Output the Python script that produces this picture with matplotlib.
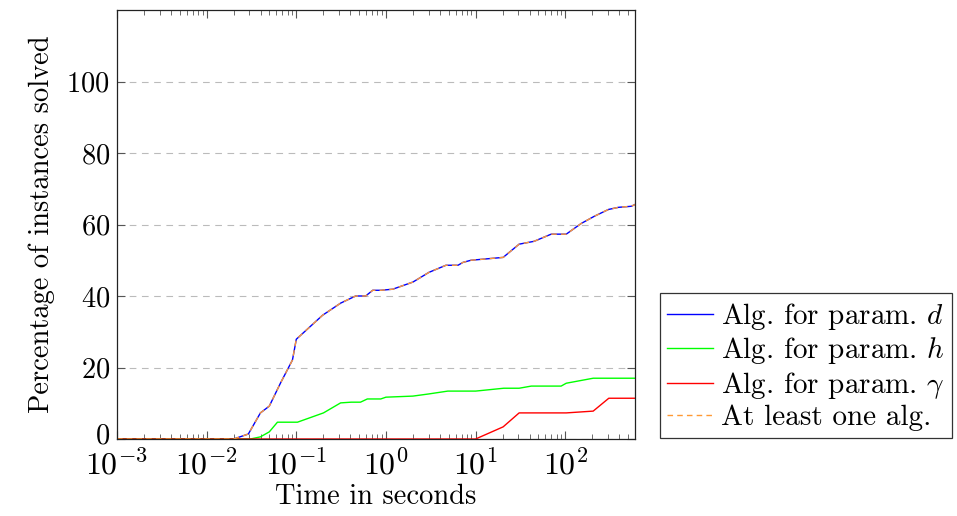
import matplotlib.pyplot as plt
import matplotlib.transforms as mtransforms
import numpy as np
from matplotlib.ticker import LogLocator, NullFormatter

plt.rcParams["font.family"] = 'cmr10'
plt.rcParams['mathtext.fontset'] = 'cm'
plt.rcParams['axes.formatter.use_mathtext'] = True
plt.rcParams.update({'font.size': 20.5})

# time (s) / percentage of instances solved
t_d = [0.001, 0.02, 0.0292, 0.0398, 0.050, 0.0665, 0.0906, 0.1, 0.196, 0.312, 0.459, 0.594,
       0.712, 0.875, 1.19, 2.0, 3.01, 4.67, 6.36, 7.23, 8.89, 20.3, 30.6, 45, 69.7, 102.6,
       151, 211, 303, 392, 547, 600]
p_d = [0, 0, 1.4, 7.3, 9.2, 15.6, 22.1, 27.9, 34.6, 38, 40, 40,
       41.6, 41.6, 41.9, 43.9, 46.6, 48.6, 48.6, 49.4, 50, 50.8, 54.5, 55.3, 57.3, 57.3,
       60.3, 62.3, 64.2, 64.8, 65.1, 65.6]

t_h = [0.001, 0.0308, 0.0398, 0.050, 0.0616, 0.103, 0.201, 0.312, 0.41, 0.52, 0.62, 0.875,
       1.0, 2.0, 3.0, 4.9, 10, 20.6, 30.6, 41.8, 90, 102.6, 205, 600]
p_h = [0, 0, 0.6, 2.0, 4.7, 4.7, 7.3, 10.1, 10.3, 10.3, 11.2, 11.2,
       11.7, 12.0, 12.6, 13.4, 13.4, 14.2, 14.2, 14.8, 14.8, 15.6, 17.0, 17.0]

t_g = [0.001, 10, 20.3, 30.6, 102.6, 205, 306, 600]
p_g = [0, 0, 3.4, 7.3, 7.3, 7.8, 11.4, 11.4]

# at least one algorithm solves it: same as d
t_any = t_d
p_any = p_d

fig = plt.figure(figsize=(9.57, 5.16), dpi=100)
ax = fig.add_axes([117/957, 77/516, 518/957, 429/516])

ax.plot(t_d, p_d, color='blue', lw=1.0, label=r'Alg. for param. $d$')
ax.plot(t_h, p_h, color='#00ff00', lw=1.0, label=r'Alg. for param. $h$')
ax.plot(t_g, p_g, color='red', lw=1.0, label=r'Alg. for param. $\gamma$')
ax.plot(t_any, p_any, color='#ff9933', lw=1.0, ls=(0, (4, 3)), label='At least one alg.')

ax.set_xscale('log')
ax.set_xlim(0.001, 600)
ax.set_ylim(0, 120)
ax.set_yticks([0, 20, 40, 60, 80, 100])
ax.xaxis.set_major_locator(LogLocator(base=10, numticks=12))
ax.xaxis.set_minor_locator(LogLocator(base=10, subs=np.arange(2, 10), numticks=12))
ax.xaxis.set_minor_formatter(NullFormatter())
ax.tick_params(which='both', direction='in', top=True, right=True, color='#555555', pad=5)
ax.tick_params(axis='x', which='major', labelsize=23, pad=7)
ax.tick_params(which='major', length=6, width=0.8)
ax.tick_params(which='minor', length=3.5, width=0.6)
ax.yaxis.grid(True, ls=(0, (6, 5)), color='#bbbbbb', lw=0.8)
ax.set_axisbelow(True)
for s in ax.spines.values():
    s.set_color('#222222')
    s.set_linewidth(0.9)

# nudge the "0" label up a little so it clears 10^-3
lab0 = ax.get_yticklabels()[0]
lab0.set_transform(lab0.get_transform() + mtransforms.ScaledTranslation(0, 4/72, fig.dpi_scale_trans))

ax.set_xlabel('Time in seconds', labelpad=2)
ax.set_ylabel('Percentage of instances solved', labelpad=8)

leg = fig.legend(loc='lower left', bbox_to_anchor=(660/957, 78/516), frameon=True,
                 fancybox=False, edgecolor='black', handlelength=1.55, handletextpad=0.3,
                 borderpad=0.25, labelspacing=0.12, borderaxespad=0, fontsize=21)
leg.get_frame().set_linewidth(0.9)

fig.savefig('out.png', dpi=100)
